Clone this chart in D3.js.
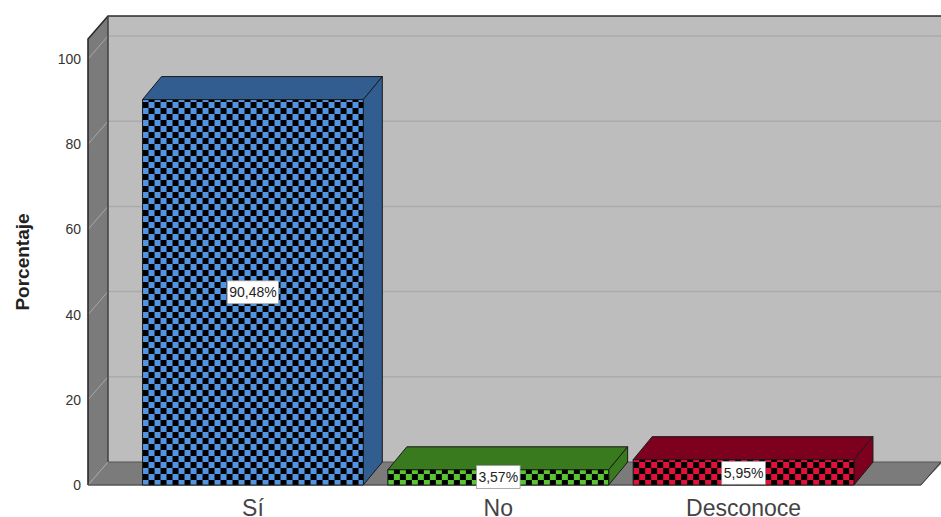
<!DOCTYPE html>
<html><head><meta charset="utf-8">
<script src="https://cdnjs.cloudflare.com/ajax/libs/d3/7.8.5/d3.min.js"></script>
<style>html,body{margin:0;background:#fff}svg{display:block}text{font-family:"Liberation Sans",Arial,sans-serif}</style>
</head><body><div id="c"></div>
<script>
const categories = ["Sí","No","Desconoce"];
const values = [90.48,3.57,5.95];
const labels = ["90,48%","3,57%","5,95%"];
const ticks = [0,20,40,60,80,100];
const faceColors = ["#5294E2","#5AC532","#E3103C"];
const sideColors = ["#325D90","#3A7A1E","#7D001E"];
const yTitle = "Porcentaje";

const W=941,H=517,x0=88,x1=921,yBase=485,yTop=39,dx=20,dy=23,bdx=19;
const svg=d3.select("#c").append("svg").attr("width",W).attr("height",H);
const x=d3.scaleBand().domain(categories).range([x0+30,x0+30+253.5*3]).paddingInner(0.1).paddingOuter(0.1);
const y=d3.scaleLinear().domain([0,104.7]).range([yBase,yTop]);

const defs=svg.append("defs");
faceColors.forEach((c,i)=>{
  const p=defs.append("pattern").attr("id","chk"+i).attr("patternUnits","userSpaceOnUse")
    .attr("width",12).attr("height",12).attr("x",x(categories[i])).attr("y",yBase%12+1);
  p.append("rect").attr("width",12).attr("height",12).attr("fill",c);
  p.append("rect").attr("width",6).attr("height",6).attr("fill","#000");
  p.append("rect").attr("x",6).attr("y",6).attr("width",6).attr("height",6).attr("fill","#000");
});
const poly=pts=>pts.map(p=>p.join(",")).join(" ");
// back wall
svg.append("rect").attr("x",x0+dx).attr("y",yTop-dy).attr("width",W-x0-dx+2).attr("height",yBase-yTop)
  .attr("fill","#BDBDBD");
// side wall
svg.append("polygon").attr("points",poly([[x0,yTop],[x0+dx,yTop-dy],[x0+dx,yBase-dy],[x0,yBase]]))
  .attr("fill","#7B7B7B");
// floor
svg.append("polygon").attr("points",poly([[x0,yBase],[x0+dx,yBase-dy],[W+2,yBase-dy],[x1,yBase]]))
  .attr("fill","#7B7B7B");
// gridlines
ticks.filter(t=>t>0).forEach(t=>{
  svg.append("line").attr("x1",x0+dx).attr("x2",W).attr("y1",y(t)-dy).attr("y2",y(t)-dy)
    .attr("stroke","#ABABAB").attr("stroke-width",1.5);
  svg.append("line").attr("x1",x0).attr("x2",x0+dx).attr("y1",y(t)).attr("y2",y(t)-dy)
    .attr("stroke","#A8A8A8").attr("stroke-width",1);
});
svg.append("line").attr("x1",x0).attr("x2",x0+dx).attr("y1",yBase).attr("y2",yBase-dy)
  .attr("stroke","#A8A8A8").attr("stroke-width",1);
// frame
svg.append("path").attr("d",`M${x0},${yBase}V${yTop}L${x0+dx},${yTop-dy}H${W}`).attr("fill","none").attr("stroke","#2B2B2B").attr("stroke-width",1.6);
svg.append("path").attr("d",`M${x0+dx},${yTop-dy}V${yBase-dy}`).attr("fill","none").attr("stroke","#3A3A3A").attr("stroke-width",1.4);
svg.append("path").attr("d",`M${x0+dx},${yBase-dy}H${W}`).attr("fill","none").attr("stroke","#555").attr("stroke-width",1);
svg.append("path").attr("d",`M${x1},${yBase}L${W},${yBase-dy+0}`).attr("fill","none").attr("stroke","#333").attr("stroke-width",1);
svg.append("line").attr("x1",x0).attr("x2",x1).attr("y1",yBase).attr("y2",yBase).attr("stroke","#555").attr("stroke-width",1.5);

// y axis
const ax=svg.append("g").attr("transform",`translate(${x0},0)`)
  .call(d3.axisLeft(y).tickValues(ticks).tickSize(0).tickPadding(7));
ax.select(".domain").remove();
ax.selectAll("text").attr("font-size",14).attr("fill","#333").style("font-family",'"Liberation Sans",Arial,sans-serif');
svg.append("text").attr("transform","translate(29,262) rotate(-90)").attr("text-anchor","middle")
  .attr("font-size",19).attr("font-weight","bold").attr("fill","#222").text(yTitle);

// bars
categories.forEach((c,i)=>{
  const l=x(c),r=l+x.bandwidth(),t=y(values[i]);
  const g=svg.append("g").attr("stroke","#1A1A1A").attr("stroke-width",1).attr("stroke-linejoin","round");
  g.append("polygon").attr("points",poly([[l,t],[l+bdx,t-dy],[r+bdx,t-dy],[r,t]])).attr("fill",sideColors[i]);
  g.append("polygon").attr("points",poly([[r,t],[r+bdx,t-dy],[r+bdx,yBase-dy],[r,yBase]])).attr("fill",sideColors[i]);
  g.append("rect").attr("x",l).attr("y",t).attr("width",r-l).attr("height",yBase-t).attr("fill",`url(#chk${i})`);
});
// labels
categories.forEach((c,i)=>{
  const cx=x(c)+x.bandwidth()/2, cy=i==0?y(values[i]/2):(i==1?y(values[i]/2)-0.5:y(values[i]/2)+0.5);
  const g=svg.append("g");
  const t=g.append("text").attr("x",cx).attr("y",cy+5).attr("text-anchor","middle").attr("font-size",14).attr("fill","#222").text(labels[i]);
  const b=t.node().getBBox();
  g.insert("rect","text").attr("x",b.x-2).attr("y",cy-11.5).attr("width",b.width+4).attr("height",23)
    .attr("fill","#fff").attr("stroke","#999").attr("stroke-width",0.8);
  svg.append("text").attr("x",cx).attr("y",516).attr("text-anchor","middle").attr("font-size",23).attr("fill","#444").text(c);
});
</script></body></html>
